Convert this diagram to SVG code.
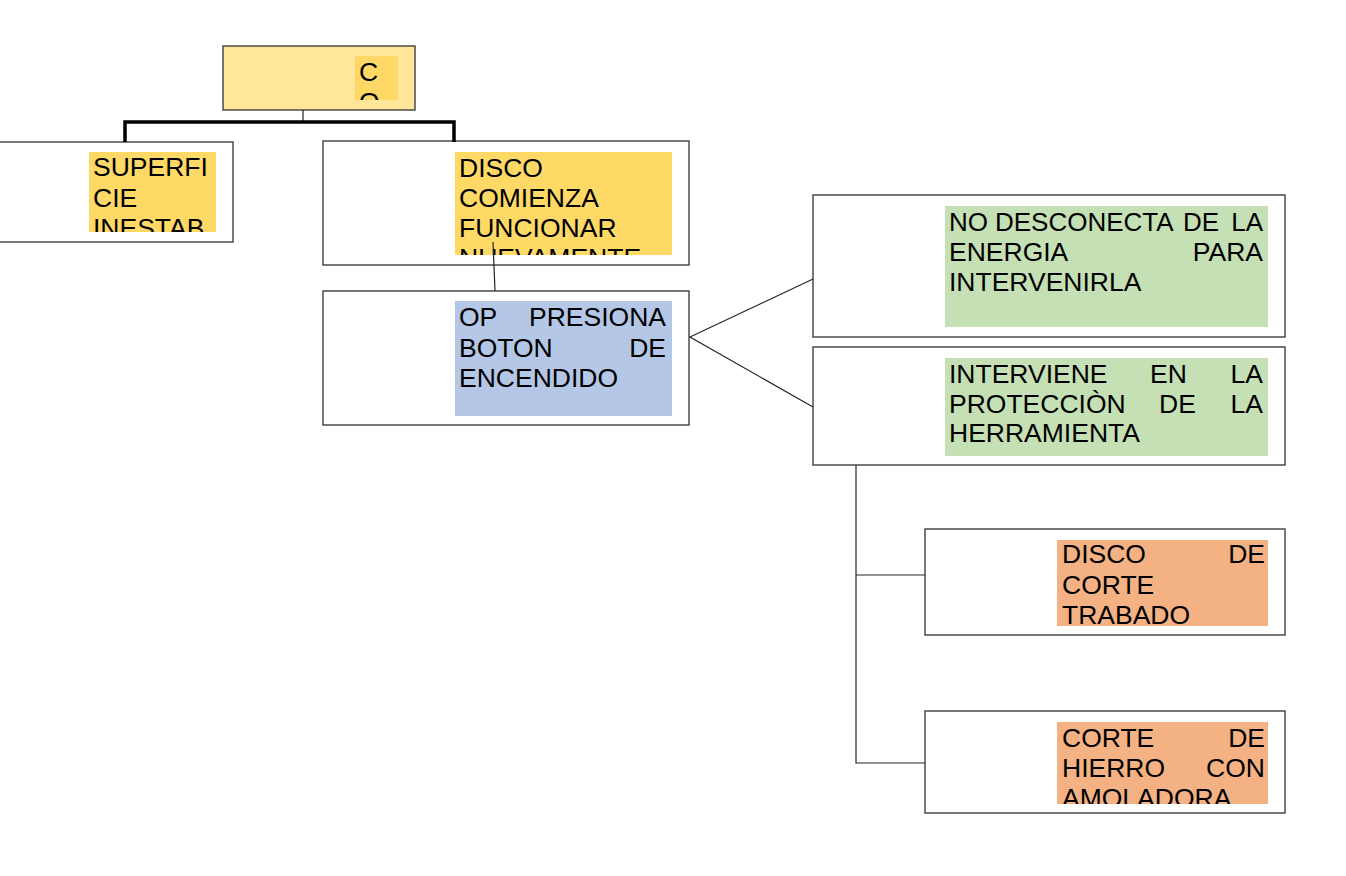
<svg xmlns="http://www.w3.org/2000/svg" width="1346" height="876" viewBox="0 0 1346 876">
<style>
.box{fill:#fff;stroke:#404040;stroke-width:1.4}
.t{font-family:"Liberation Sans",Arial,sans-serif;font-size:26.5px;fill:#000}
.s{font-size:26px}
.e{text-anchor:end}
.ln{fill:none;stroke:#262626;stroke-width:1.2}
.thick{fill:none;stroke:#000;stroke-width:3.5}
</style>
<defs>
<clipPath id="c0"><rect x="355" y="56" width="43" height="44"/></clipPath>
<clipPath id="c1"><rect x="89" y="152" width="127" height="80"/></clipPath>
<clipPath id="c2"><rect x="455" y="152" width="217" height="103"/></clipPath>
<clipPath id="c3"><rect x="1057" y="540" width="211" height="86"/></clipPath>
<clipPath id="c4"><rect x="1057" y="722" width="211" height="82"/></clipPath>
</defs>
<rect width="1346" height="876" fill="#fff"/>
<g id="n-top">
<rect x="223" y="46" width="192" height="64" fill="#FFE699" stroke="#404040" stroke-width="1.4"/>
<rect x="355" y="56" width="43" height="44" fill="#FFD966"/>
<g clip-path="url(#c0)"><text class="t" x="359" y="81">C</text><text class="t" x="359" y="111">O</text></g>
</g>
<g id="n-superficie">
<rect class="box" x="-10" y="142" width="243" height="100"/>
<rect x="89" y="152" width="127" height="80" fill="#FFD966"/>
<g clip-path="url(#c1)"><text class="t" x="93" y="176">SUPERFI</text><text class="t" x="93" y="207">CIE</text><text class="t" x="93" y="237">INESTAB</text></g>
</g>
<g id="n-disco">
<rect class="box" x="323" y="141" width="366" height="124"/>
<rect x="455" y="152" width="217" height="103" fill="#FFD966"/>
<g clip-path="url(#c2)"><text class="t" x="459" y="177">DISCO</text><text class="t" x="459" y="207">COMIENZA</text><text class="t" x="459" y="237">FUNCIONAR</text><text class="t" x="459" y="267">NUEVAMENTE</text></g>
</g>
<g id="n-op">
<rect class="box" x="323" y="291" width="366" height="134"/>
<rect x="455" y="301" width="217" height="115" fill="#B4C7E7"/>
<text class="t" x="459" y="326">OP</text><text class="t e" x="666" y="326">PRESIONA</text>
<text class="t" x="459" y="357">BOTON</text><text class="t e" x="666" y="357">DE</text>
<text class="t" x="459" y="387">ENCENDIDO</text>
</g>
<g id="n-nodesconecta">
<rect class="box" x="813" y="195" width="472" height="142"/>
<rect x="945" y="206" width="323" height="121" fill="#C5E0B4"/>
<text class="t s" x="949" y="231">NO</text><text class="t s" x="995" y="231">DESCONECTA</text><text class="t s" x="1183" y="231">DE</text><text class="t s e" x="1263" y="231">LA</text>
<text class="t" x="949" y="261">ENERGIA</text><text class="t e" x="1263" y="261">PARA</text>
<text class="t" x="949" y="291">INTERVENIRLA</text>
</g>
<g id="n-interviene">
<rect class="box" x="813" y="347" width="472" height="118"/>
<rect x="945" y="358" width="323" height="98" fill="#C5E0B4"/>
<text class="t" x="949" y="383">INTERVIENE</text><text class="t" x="1150" y="383">EN</text><text class="t e" x="1263" y="383">LA</text>
<text class="t" x="949" y="413">PROTECCIÒN</text><text class="t" x="1159" y="413">DE</text><text class="t e" x="1263" y="413">LA</text>
<text class="t" x="949" y="442">HERRAMIENTA</text>
</g>
<g id="n-discocorte">
<rect class="box" x="925" y="529" width="360" height="106"/>
<rect x="1057" y="540" width="211" height="86" fill="#F4B183"/>
<g clip-path="url(#c3)"><text class="t" x="1062" y="563">DISCO</text><text class="t e" x="1265" y="563">DE</text><text class="t" x="1062" y="594">CORTE</text><text class="t" x="1062" y="624">TRABADO</text></g>
</g>
<g id="n-cortehierro">
<rect class="box" x="925" y="711" width="360" height="102"/>
<rect x="1057" y="722" width="211" height="82" fill="#F4B183"/>
<g clip-path="url(#c4)"><text class="t" x="1062" y="747">CORTE</text><text class="t e" x="1265" y="747">DE</text><text class="t" x="1062" y="777">HIERRO</text><text class="t e" x="1265" y="777">CON</text><text class="t" x="1062" y="807">AMOLADORA</text></g>
</g>
<g id="connectors">
<line class="ln" x1="303" y1="110" x2="303" y2="122"/>
<path class="thick" d="M125,142 V122 H454 V142"/>
<line class="ln" x1="493" y1="242" x2="495" y2="291"/>
<path class="ln" d="M813,279 L690,337 L813,407"/>
<path class="ln" d="M856,465 V763 H925 M856,575 H925"/>
</g>
</svg>
